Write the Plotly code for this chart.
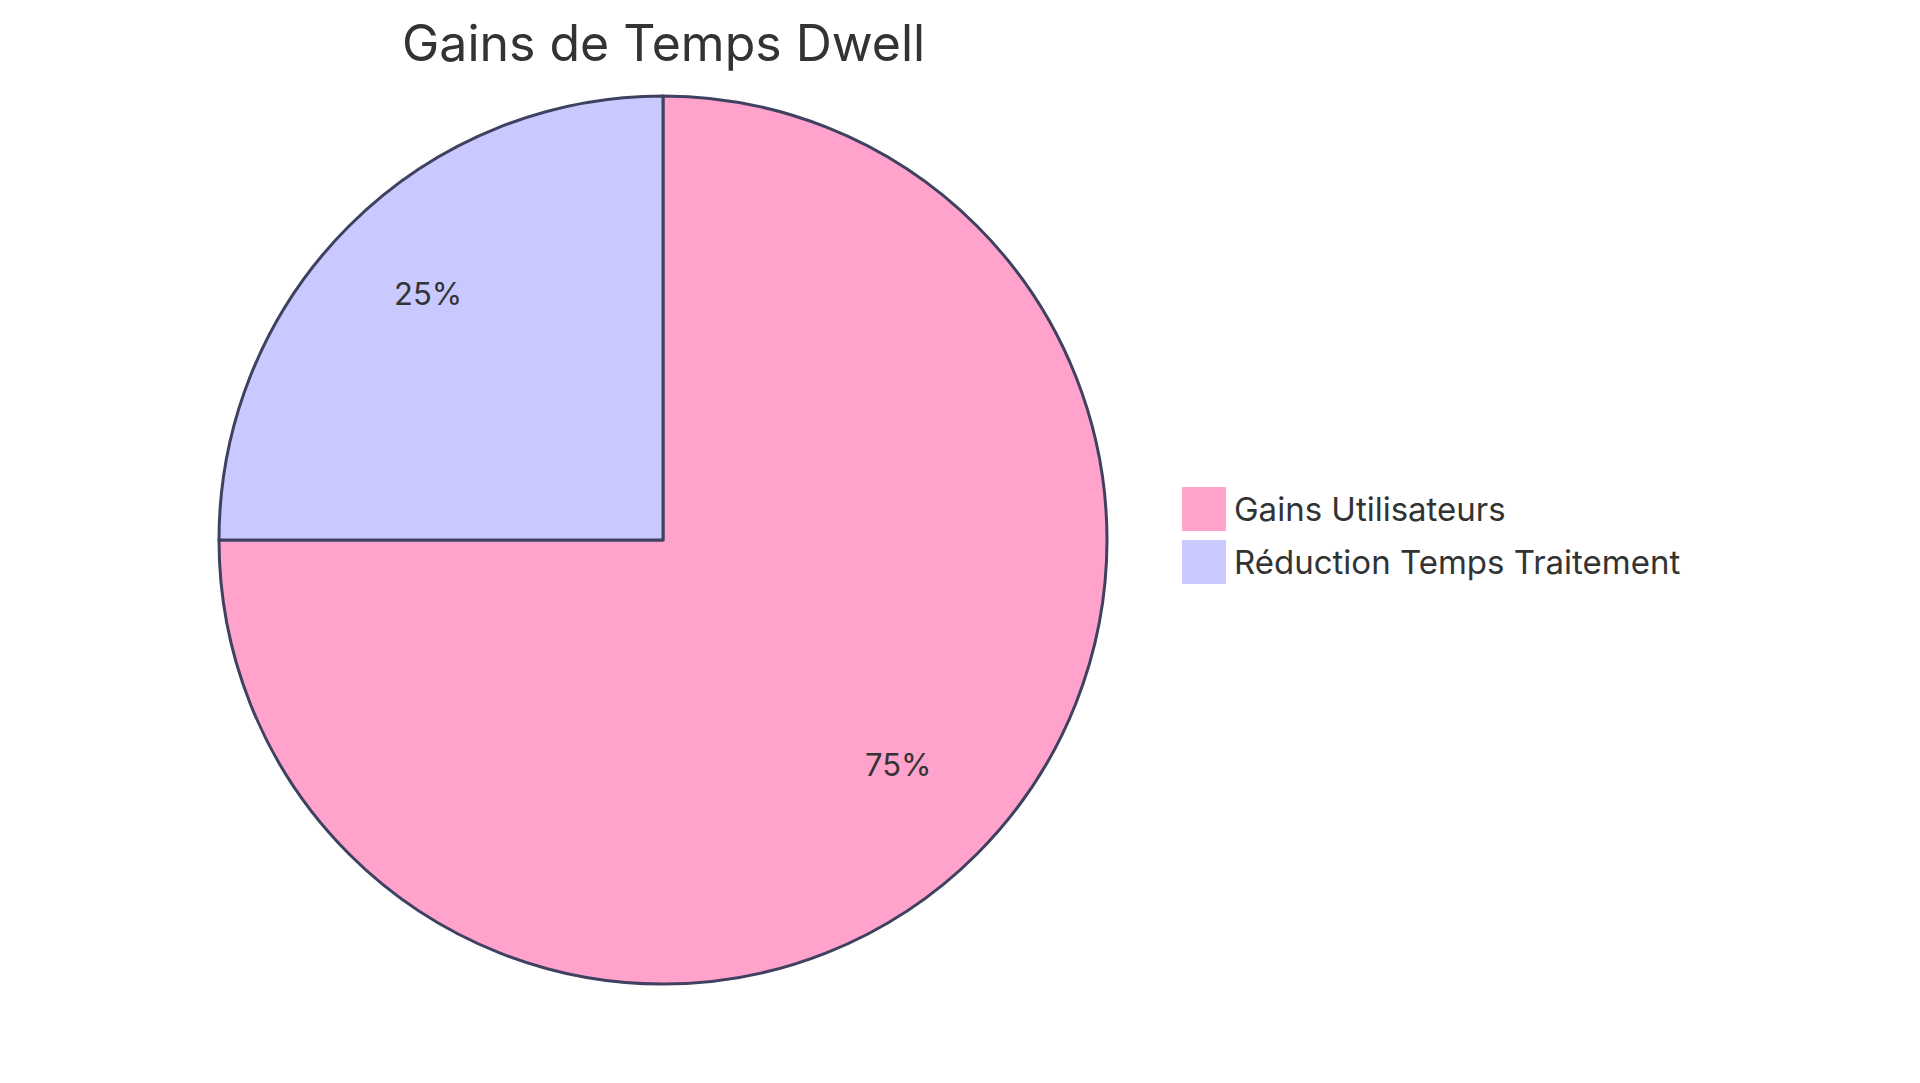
import math
import plotly.graph_objects as go

# data
labels = ["Gains Utilisateurs", "Réduction Temps Traitement"]
values = [75, 25]
colors = ["#FFA3CD", "#C9C9FF"]
title_text = "Gains de Temps Dwell"

W, H = 1920, 1083
font_family = "Inter, 'Open Sans', sans-serif"
text_color = "#333333"
stroke = "#3E4160"

# pie placement in pixels
cx, cy, r = 655, 532, 444
dom_x = [(cx - r) / W, (cx + r) / W]
dom_y = [1 - (cy + r) / H, 1 - (cy - r) / H]

fig = go.Figure()
fig.add_trace(go.Pie(
    labels=labels,
    values=values,
    sort=False,
    direction="clockwise",
    rotation=0,
    marker=dict(colors=colors, line=dict(color=stroke, width=3)),
    textinfo="none",
    hoverinfo="label+percent",
    showlegend=False,
    domain=dict(x=dom_x, y=dom_y),
))

# percentage labels at 75% of radius on each slice mid angle
total = sum(values)
cum = 0
annotations = []
for v in values:
    mid = (cum + v / 2) / total * 2 * math.pi
    cum += v
    px = cx + 0.75 * r * math.sin(mid)
    py = cy - 0.75 * r * math.cos(mid)
    annotations.append(dict(
        x=px / W, y=1 - py / H, xref="paper", yref="paper",
        xanchor="center", yanchor="middle",
        text=f"{v / total * 100:.0f}%", showarrow=False, yshift=11,
        font=dict(size=31, color=text_color, family=font_family),
    ))

# custom legend with big square swatches
shapes = []
leg_x, leg_y, sw, gap = 1174, 479, 44, 53
for i, (lab, col) in enumerate(zip(labels, colors)):
    top = leg_y + i * gap
    shapes.append(dict(
        type="rect", xref="paper", yref="paper",
        x0=leg_x / W, x1=(leg_x + sw) / W,
        y0=1 - (top + sw) / H, y1=1 - top / H,
        fillcolor=col, line=dict(width=0),
    ))
    annotations.append(dict(
        x=(leg_x + sw + 6) / W, y=1 - (top + sw / 2) / H,
        xref="paper", yref="paper", xanchor="left", yanchor="middle",
        text=lab, showarrow=False,
        font=dict(size=33, color=text_color, family=font_family),
    ))

# title
annotations.append(dict(
    x=cx / W, y=1 - 35 / H, xref="paper", yref="paper",
    xanchor="center", yanchor="middle", text=title_text, showarrow=False,
    font=dict(size=50, color=text_color, family=font_family),
))

fig.update_layout(
    width=W, height=H,
    margin=dict(l=0, r=0, t=0, b=0),
    paper_bgcolor="white",
    plot_bgcolor="white",
    annotations=annotations,
    shapes=shapes,
)

fig.write_html("out.html")
